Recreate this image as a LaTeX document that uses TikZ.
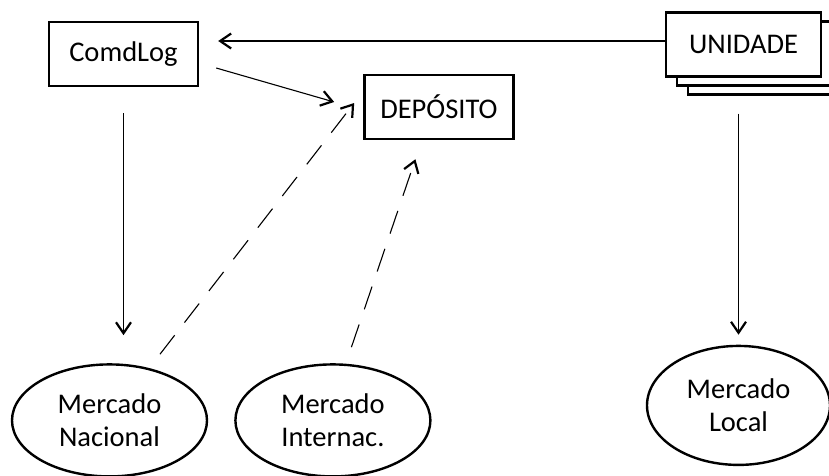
\documentclass[tikz,border=0pt]{standalone}
\usepackage{fontspec}
\setmainfont{Carlito}
\usetikzlibrary{arrows.meta, positioning, shapes.geometric, calc}
\tikzset{
  box/.style = {
    draw, align=center, minimum width=149pt, minimum height=64pt,
    inner sep=4pt, line width=2.4pt, fill=white, font=\fontsize{28.5}{33}\selectfont
  },
  market/.style = {
    ellipse, draw, align=center, minimum width=195pt, minimum height=112pt,
    inner sep=0pt, line width=2.4pt, font=\fontsize{28.5}{33}\selectfont
  },
  arrow/.style = {-{Straight Barb[length=11pt, width=15pt, line width=2.2pt]}, line width=1.1pt},
  dasharrow/.style = {arrow, dash pattern=on 24pt off 16pt},
}
\begin{document}
\begin{tikzpicture}[x=1pt, y=-1pt]
    \useasboundingbox (0,0) rectangle (829,475);

    % Top row: boxes
    \node[box] (comdlog) at (123.5,54) {ComdLog};
    \node[box, right=164pt of comdlog, yshift=-53pt] (deposito) {DEPÓSITO};

    % UNIDADE as a stack of three pages
    \node[box, minimum width=155pt] (unidadeC) at (765.5,62.5) {};
    \node[box, minimum width=155pt] (unidadeB) at (754.5,53.5) {};
    \node[box, minimum width=155pt] (unidade) at (743.5,44.5) {UNIDADE};

    % Bottom row: markets
    \node[market, below=276pt of comdlog, xshift=-14pt] (nacional) {Mercado\\Nacional};
    \node[market, right=26pt of nacional] (internac) {Mercado\\Internac.};
    \node[market, below=267pt of unidade, xshift=-5pt, minimum width=183pt, minimum height=119pt] (local) {Mercado\\Local};

    % Arrows
    \draw[arrow] ($(unidade.west)+(0,-3.5)$) -- ($(comdlog.east |- unidade.west)+(19,-3.5)$);
    \draw[arrow] ($(comdlog.east)+(17,14)$) -- ($(deposito.west)+(-29,-5)$);
    \draw[arrow, shorten <=26pt, shorten >=28pt] (comdlog.south) -- (comdlog.south |- nacional.north);
    \draw[arrow, shorten <=36pt, shorten >=10pt] (local.north |- unidade.south) -- (local.north);

    % Dashed supply lines
    \draw[dasharrow] ($(nacional.north)+(50.5,-9)$) -- ($(deposito.west)+(-9,-4)$);
    \draw[dasharrow] ($(internac.north)+(18.5,-16)$) -- ($(deposito.south)+(-23.5,19)$);
  \end{tikzpicture}
\end{document}
